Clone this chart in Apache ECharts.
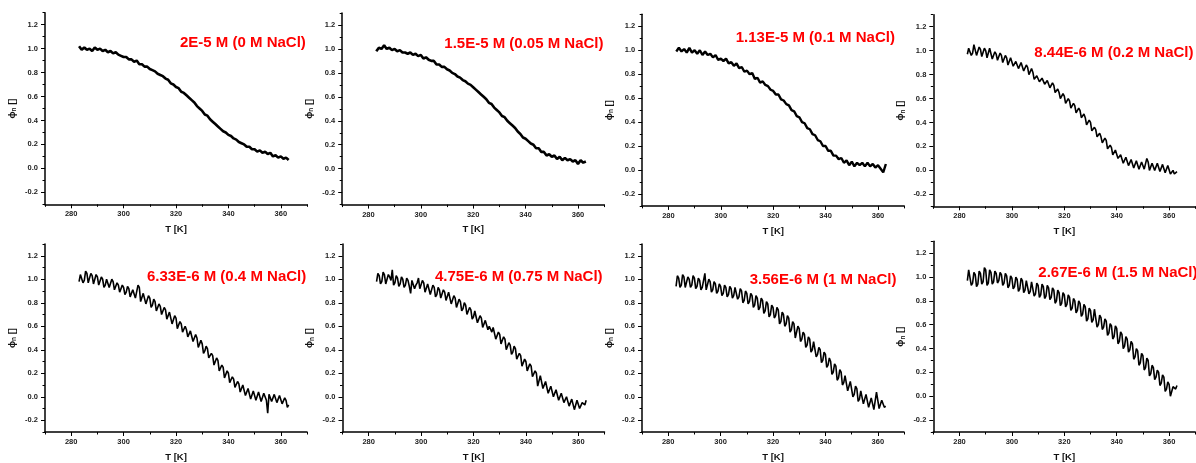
<!DOCTYPE html>
<html><head><meta charset="utf-8">
<script src="https://cdn.jsdelivr.net/npm/echarts@6/dist/echarts.min.js"></script>
<style>html,body{margin:0;padding:0;background:#fff}#c{width:1196px;height:463px}</style>
</head><body><div id="c"></div><script>
// Temperature [K] (whole-kelvin samples)
const T = [283,284,285,286,287,288,289,290,291,292,293,294,295,296,297,298,299,300,301,302,303,304,305,306,307,308,309,310,311,312,313,314,315,316,317,318,319,320,321,322,323,324,325,326,327,328,329,330,331,332,333,334,335,336,337,338,339,340,341,342,343,344,345,346,347,348,349,350,351,352,353,354,355,356,357,358,359,360,361,362,363];
// Temperature [K] (half-kelvin samples, noisy panels)
const Th = [283.5,284.5,285.5,286.5,287.5,288.5,289.5,290.5,291.5,292.5,293.5,294.5,295.5,296.5,297.5,298.5,299.5,300.5,301.5,302.5,303.5,304.5,305.5,306.5,307.5,308.5,309.5,310.5,311.5,312.5,313.5,314.5,315.5,316.5,317.5,318.5,319.5,320.5,321.5,322.5,323.5,324.5,325.5,326.5,327.5,328.5,329.5,330.5,331.5,332.5,333.5,334.5,335.5,336.5,337.5,338.5,339.5,340.5,341.5,342.5,343.5,344.5,345.5,346.5,347.5,348.5,349.5,350.5,351.5,352.5,353.5,354.5,355.5,356.5,357.5,358.5,359.5,360.5,361.5,362.5];

// normalised fraction phi_n
const phi_2E5 = [1.02,0.99,1.01,0.99,1.00,0.98,1.01,0.99,1.00,0.98,0.99,0.97,0.98,0.96,0.97,0.95,0.94,0.93,0.93,0.91,0.91,0.89,0.90,0.87,0.87,0.85,0.85,0.83,0.82,0.81,0.79,0.78,0.77,0.75,0.74,0.71,0.70,0.68,0.67,0.64,0.63,0.61,0.59,0.57,0.55,0.52,0.50,0.48,0.45,0.44,0.41,0.39,0.37,0.35,0.33,0.31,0.30,0.28,0.27,0.25,0.24,0.22,0.21,0.20,0.18,0.18,0.16,0.16,0.14,0.15,0.13,0.14,0.12,0.13,0.10,0.11,0.09,0.10,0.08,0.09,0.07];
const phi_15E5 = [0.98,1.01,1.00,1.03,1.00,1.01,0.99,1.00,0.98,0.99,0.97,0.97,0.96,0.97,0.95,0.96,0.94,0.95,0.92,0.93,0.91,0.90,0.90,0.87,0.87,0.85,0.85,0.83,0.82,0.80,0.79,0.77,0.76,0.74,0.73,0.71,0.70,0.68,0.66,0.64,0.62,0.60,0.58,0.55,0.54,0.51,0.49,0.47,0.44,0.43,0.40,0.38,0.36,0.34,0.31,0.29,0.26,0.25,0.23,0.21,0.20,0.17,0.17,0.14,0.14,0.11,0.12,0.10,0.11,0.08,0.10,0.07,0.09,0.07,0.08,0.06,0.07,0.04,0.07,0.05,0.06];
const phi_113E5 = [0.99,1.02,0.99,1.01,0.98,1.02,0.98,1.00,0.97,1.00,0.96,0.99,0.96,0.97,0.94,0.96,0.92,0.93,0.91,0.93,0.89,0.90,0.87,0.89,0.85,0.86,0.82,0.83,0.80,0.81,0.76,0.77,0.73,0.74,0.71,0.70,0.67,0.66,0.63,0.63,0.59,0.58,0.55,0.54,0.50,0.49,0.45,0.44,0.40,0.39,0.35,0.34,0.30,0.29,0.25,0.24,0.20,0.20,0.16,0.16,0.12,0.12,0.09,0.10,0.06,0.08,0.04,0.07,0.03,0.06,0.04,0.06,0.03,0.06,0.03,0.05,0.02,0.04,0.01,-0.02,0.05];
const phi_844E6 = [0.97,1.01,0.98,1.04,0.97,1.01,0.96,1.00,0.95,1.01,0.94,0.97,0.93,0.96,0.91,0.94,0.89,0.93,0.88,0.90,0.86,0.89,0.84,0.86,0.81,0.82,0.77,0.78,0.75,0.76,0.73,0.74,0.70,0.71,0.66,0.65,0.61,0.62,0.57,0.58,0.53,0.54,0.49,0.50,0.45,0.44,0.39,0.40,0.34,0.34,0.29,0.28,0.24,0.25,0.19,0.19,0.14,0.16,0.11,0.12,0.07,0.10,0.05,0.08,0.03,0.07,0.02,0.06,0.02,0.07,0.01,0.05,0.01,0.05,0.00,0.04,-0.01,0.03,-0.02,-0.03,-0.01];
const phi_844E6_h = [1.02,0.96,1.05,0.96,1.03,0.95,1.02,0.94,1.02,0.93,0.99,0.92,0.98,0.90,0.96,0.88,0.94,0.87,0.91,0.85,0.90,0.83,0.88,0.80,0.85,0.76,0.79,0.74,0.77,0.72,0.75,0.69,0.73,0.65,0.68,0.60,0.64,0.56,0.60,0.52,0.56,0.48,0.52,0.44,0.47,0.38,0.42,0.33,0.36,0.28,0.31,0.23,0.27,0.18,0.21,0.13,0.17,0.10,0.13,0.06,0.11,0.04,0.09,0.02,0.08,0.01,0.07,0.01,0.10,0.00,0.06,0.00,0.06,-0.01,0.05,-0.02,0.04,-0.03,0.00,-0.04];
const phi_633E6 = [0.98,1.03,0.99,1.05,0.98,1.03,0.97,1.02,0.96,1.00,0.95,0.99,0.94,0.98,0.92,0.95,0.90,0.93,0.89,0.92,0.86,0.90,0.85,0.93,0.82,0.87,0.80,0.84,0.78,0.81,0.74,0.77,0.71,0.74,0.67,0.71,0.63,0.67,0.59,0.62,0.56,0.57,0.52,0.55,0.48,0.50,0.43,0.45,0.39,0.41,0.34,0.35,0.28,0.31,0.23,0.25,0.17,0.20,0.13,0.15,0.09,0.11,0.05,0.09,0.02,0.06,-0.01,0.04,-0.02,0.03,-0.03,0.02,-0.14,0.03,-0.03,0.01,-0.04,0.00,-0.05,-0.03,-0.07];
const phi_633E6_h = [1.04,0.97,1.07,0.97,1.05,0.96,1.04,0.95,1.02,0.93,1.00,0.93,1.00,0.91,0.97,0.89,0.95,0.87,0.94,0.85,0.91,0.84,0.95,0.81,0.88,0.79,0.86,0.76,0.83,0.73,0.79,0.70,0.76,0.66,0.72,0.62,0.69,0.58,0.64,0.55,0.60,0.51,0.56,0.47,0.53,0.42,0.48,0.37,0.43,0.33,0.37,0.27,0.33,0.22,0.27,0.16,0.22,0.12,0.17,0.08,0.13,0.04,0.10,0.01,0.07,-0.02,0.05,-0.03,0.04,-0.04,0.03,-0.03,0.02,-0.04,0.02,-0.05,0.01,-0.06,-0.01,-0.09];
const phi_475E6 = [0.98,1.03,0.98,1.04,0.97,1.02,1.08,0.97,1.01,0.96,1.00,0.95,0.99,0.88,0.98,0.95,1.01,0.93,0.97,0.90,0.95,0.88,0.93,0.87,0.91,0.85,0.89,0.83,0.88,0.80,0.84,0.77,0.81,0.75,0.78,0.71,0.74,0.68,0.72,0.64,0.67,0.58,0.64,0.60,0.55,0.58,0.50,0.53,0.46,0.49,0.41,0.44,0.38,0.41,0.33,0.35,0.27,0.30,0.23,0.26,0.18,0.20,0.10,0.17,0.08,0.12,0.04,0.08,0.01,0.05,-0.02,0.02,-0.04,-0.01,-0.07,-0.03,-0.10,-0.04,-0.09,-0.06,-0.03];
const phi_475E6_h = [1.05,0.96,1.06,0.96,1.04,0.99,0.95,1.03,0.94,1.02,0.93,1.01,0.94,0.99,0.92,0.97,0.92,0.99,0.89,0.96,0.87,0.95,0.85,0.93,0.84,0.91,0.82,0.89,0.79,0.86,0.76,0.83,0.73,0.80,0.70,0.76,0.66,0.73,0.63,0.69,0.59,0.65,0.57,0.60,0.59,0.49,0.55,0.45,0.51,0.40,0.46,0.36,0.43,0.32,0.37,0.26,0.32,0.22,0.28,0.17,0.22,0.09,0.18,0.07,0.13,0.03,0.09,0.00,0.06,-0.03,0.03,-0.05,0.00,-0.08,-0.02,-0.11,-0.03,-0.10,-0.05,-0.07];
const phi_356E6 = [0.94,1.01,0.95,1.02,0.94,1.00,0.95,1.01,0.94,0.99,0.93,1.05,0.92,0.98,0.91,0.96,0.90,0.94,0.88,0.93,0.87,0.92,0.86,0.92,0.85,0.90,0.82,0.88,0.81,0.86,0.78,0.84,0.76,0.82,0.73,0.79,0.70,0.76,0.69,0.74,0.64,0.70,0.62,0.67,0.57,0.62,0.51,0.58,0.49,0.53,0.44,0.49,0.40,0.46,0.36,0.40,0.31,0.36,0.27,0.30,0.21,0.26,0.16,0.21,0.12,0.17,0.06,0.12,0.02,0.07,-0.02,0.04,-0.05,0.01,-0.08,-0.02,-0.10,0.03,-0.09,-0.04,-0.08];
const phi_356E6_h = [1.03,0.93,1.04,0.93,1.02,0.93,1.03,0.92,1.01,0.91,0.99,0.91,1.00,0.89,0.98,0.88,0.96,0.86,0.95,0.85,0.94,0.84,0.93,0.83,0.92,0.80,0.90,0.79,0.88,0.76,0.86,0.74,0.84,0.71,0.81,0.68,0.78,0.67,0.76,0.62,0.72,0.60,0.69,0.55,0.64,0.50,0.60,0.47,0.55,0.42,0.51,0.38,0.47,0.34,0.42,0.29,0.38,0.25,0.33,0.19,0.28,0.14,0.23,0.10,0.18,0.05,0.13,0.00,0.09,-0.04,0.05,-0.06,0.02,-0.09,-0.01,-0.11,0.04,-0.10,-0.03,-0.09];
const phi_267E6 = [0.97,1.05,0.95,1.02,0.94,1.03,0.96,1.06,0.95,1.04,0.96,1.03,0.97,1.02,0.95,1.01,0.93,0.99,0.92,0.98,0.90,0.97,0.89,0.96,0.88,0.95,0.86,0.93,0.85,0.92,0.84,0.91,0.83,0.89,0.80,0.87,0.78,0.85,0.77,0.83,0.74,0.80,0.72,0.78,0.69,0.75,0.65,0.72,0.64,0.72,0.60,0.66,0.58,0.63,0.53,0.59,0.50,0.57,0.46,0.52,0.42,0.48,0.39,0.44,0.33,0.38,0.28,0.34,0.24,0.30,0.19,0.24,0.16,0.20,0.11,0.16,0.06,0.10,0.01,0.07,0.09];
const phi_267E6_h = [1.06,0.93,1.04,0.92,1.05,0.94,1.08,0.93,1.06,0.94,1.05,0.95,1.04,0.93,1.03,0.91,1.01,0.90,1.00,0.88,0.99,0.87,0.97,0.86,0.96,0.84,0.95,0.83,0.94,0.82,0.93,0.81,0.91,0.78,0.89,0.76,0.87,0.75,0.85,0.72,0.82,0.70,0.80,0.67,0.77,0.63,0.74,0.62,0.73,0.58,0.68,0.56,0.65,0.51,0.61,0.48,0.59,0.44,0.54,0.40,0.50,0.37,0.46,0.31,0.40,0.26,0.36,0.22,0.32,0.17,0.26,0.14,0.22,0.09,0.18,0.04,0.12,0.00,0.08,0.06];

const panelData = [phi_2E5, phi_15E5, phi_113E5, phi_844E6, phi_633E6, phi_475E6, phi_356E6, phi_267E6];
const panelHalf = [null, null, null, phi_844E6_h, phi_633E6_h, phi_475E6_h, phi_356E6_h, phi_267E6_h];
const titles = ['2E-5 M (0 M NaCl)','1.5E-5 M (0.05 M NaCl)','1.13E-5 M (0.1 M NaCl)','8.44E-6 M (0.2 M NaCl)','6.33E-6 M (0.4 M NaCl)','4.75E-6 M (0.75 M NaCl)','3.56E-6 M (1 M NaCl)','2.67E-6 M (1.5 M NaCl)'];
const xMajor = [280,300,320,340,360];
const xMinor = [270,290,310,330,350,370];
const yMajor = [-0.2,0,0.2,0.4,0.6,0.8,1.0,1.2];
const yMinor = [-0.3,-0.1,0.1,0.3,0.5,0.7,0.9,1.1,1.3];
const xName = 'T [K]';

// layout (pixels)
const gridPos = [
  {left:45, top:12.7}, {left:342.2, top:13}, {left:642.2, top:14.3}, {left:933.3, top:14.7},
  {left:45, top:244}, {left:342.5, top:244}, {left:642, top:244}, {left:933.3, top:241.3}
];
const titlePos = [[180,43.3],[444.3,44],[735.7,37.5],[1034.3,52.5],[147,277],[435,277],[749.7,279.5],[1038.3,272.8]];
const lineW = [2.6,2.6,2.4,1.6,1.6,1.6,1.6,1.6];
const GW = 262, GH = 191.6;
const FONT = '"Liberation Sans", Arial, sans-serif';

const grids = [], xAxes = [], yAxes = [], series = [], graphics = [];
gridPos.forEach((g, i) => {
  grids.push({left:g.left, top:g.top, width:GW, height:GH, containLabel:false});
  const lineStyle = {color:'#000', width:1.5};
  xAxes.push({
    type:'value', gridIndex:i, min:270, max:370, position:'bottom',
    axisLine:{show:true, onZero:false, lineStyle},
    axisTick:{show:true, inside:false, length:4, customValues:xMajor, lineStyle:{color:'#000', width:1}},
    axisLabel:{show:true, customValues:xMajor, margin:6, fontSize:7.5, fontWeight:'bold', color:'#222', fontFamily:FONT},
    splitLine:{show:false},
    name:xName, nameLocation:'middle', nameGap:20,
    nameTextStyle:{fontSize:9.5, fontWeight:'bold', color:'#111', fontFamily:FONT}
  });
  xAxes.push({
    type:'value', gridIndex:i, min:270, max:370, position:'bottom',
    axisLine:{show:false, onZero:false},
    axisTick:{show:true, inside:false, length:2.5, customValues:xMinor, lineStyle:{color:'#000', width:1}},
    axisLabel:{show:false}, splitLine:{show:false}
  });
  yAxes.push({
    type:'value', gridIndex:i, min:-0.3, max:1.3, position:'left',
    axisLine:{show:true, onZero:false, lineStyle},
    axisTick:{show:true, inside:false, length:4, customValues:yMajor, lineStyle:{color:'#000', width:1}},
    axisLabel:{show:true, customValues:yMajor, margin:7, fontSize:7.5, fontWeight:'bold', color:'#222', fontFamily:FONT,
      formatter:v => Number(v).toFixed(1)},
    splitLine:{show:false},
    name:'{b|\u03D5}{s|n}{b| []}', nameLocation:'middle', nameGap:27,
    nameTextStyle:{fontFamily:FONT, rich:{
      b:{fontSize:9.5, fontWeight:'bold', color:'#111', fontFamily:FONT, lineHeight:12},
      s:{fontSize:6.5, fontWeight:'bold', color:'#111', fontFamily:FONT, verticalAlign:'bottom', lineHeight:12}
    }}
  });
  yAxes.push({
    type:'value', gridIndex:i, min:-0.3, max:1.3, position:'left',
    axisLine:{show:false, onZero:false},
    axisTick:{show:true, inside:false, length:2.5, customValues:yMinor, lineStyle:{color:'#000', width:1}},
    axisLabel:{show:false}, splitLine:{show:false}
  });
  const full = panelData[i], half = panelHalf[i];
  const pts = [];
  T.forEach((t, k) => {
    pts.push([t, full[k]]);
    if (half && k < Th.length) pts.push([Th[k], half[k]]);
  });
  series.push({
    type:'line', xAxisIndex:2*i, yAxisIndex:2*i, data:pts,
    showSymbol:false, symbol:'none', smooth:false,
    lineStyle:{color:'#000', width:lineW[i], join:'bevel'}, silent:true, animation:false
  });
  graphics.push({
    type:'text', x:titlePos[i][0], y:titlePos[i][1],
    style:{text:titles[i], fill:'#ff0000', font:'bold 15px ' + FONT, textVerticalAlign:'middle', textAlign:'left'}
  });
});

const chart = echarts.init(document.getElementById('c'), null, {renderer:'canvas'});
chart.setOption({
  animation:false,
  backgroundColor:'#fff',
  grid:grids, xAxis:xAxes, yAxis:yAxes, series:series, graphic:graphics
});
</script></body></html>
